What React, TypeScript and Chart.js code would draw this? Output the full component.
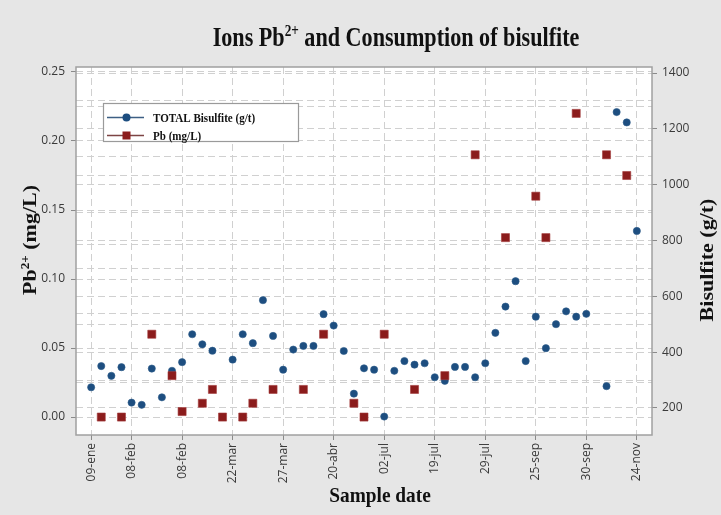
import React, { useEffect, useRef } from 'react';
import { Chart, registerables } from 'chart.js';

Chart.register(...registerables);

// TOTAL Bisulfite (g/t) per sample (null = not measured)
const bisulfite: (number | null)[] = [
  274, 350, 315, 346, 219, 211, 341, 238, 333, 364,
  464, 428, 405, null, 373, 464, 432, 586, 458, 337,
  409, 422, 422, 536, 495, 404, 251, 342, 337, 169,
  333, 368, 355, 360, 310, 297, 347, 347, 310, 360,
  469, 563, 654, 368, 527, 414, 500, 546, 527, 537,
  null, 278, 1260, 1223, 834,
];

// Pb (mg/L) per sample (null = not measured)
const pb: (number | null)[] = [
  null, 0, null, 0, null, null, 0.06, null, 0.03, 0.004,
  null, 0.01, 0.02, 0, null, 0, 0.01, null, 0.02, null,
  null, 0.02, null, 0.06, null, null, 0.01, 0, null, 0.06,
  null, null, 0.02, null, null, 0.03, null, null, 0.19, null,
  null, 0.13, null, null, 0.16, 0.13, null, null, 0.22, null,
  null, 0.19, null, 0.175, null,
];

const xTickIndex = [0, 4, 9, 14, 19, 24, 29, 34, 39, 44, 49, 54];
const xTickLabels = ['09-ene', '08-feb', '08-feb', '22-mar', '27-mar', '20-abr', '02-jul', '19-jul', '29-jul', '25-sep', '30-sep', '24-nov'];
const leftTicks = [0, 0.025, 0.05, 0.075, 0.1, 0.125, 0.15, 0.175, 0.2, 0.225, 0.25];
const rightTicks = [200, 300, 400, 500, 600, 700, 800, 900, 1000, 1100, 1200, 1300, 1400];

const BLUE = '#1d4e80';
const RED = '#8b1c1c';
const GRID = '#d0d0d0';
const SERIF = '"Liberation Serif", "Times New Roman", serif';
const SANS = '"Open Sans", "Liberation Sans", sans-serif';

type Part = { t: string; sup?: boolean };

function drawText(
  ctx: CanvasRenderingContext2D,
  parts: Part[],
  x: number,
  y: number,
  size: number,
  sx: number,
  sy: number,
  rot: number,
  align: 'center' | 'left',
) {
  ctx.save();
  ctx.translate(x, y);
  ctx.rotate(rot);
  ctx.scale(sx, sy);
  const font = (s: number) => `bold ${s}px ${SERIF}`;
  const widths = parts.map((p) => {
    ctx.font = font(p.sup ? size * 0.6 : size);
    return ctx.measureText(p.t).width;
  });
  const total = widths.reduce((a, b) => a + b, 0);
  let cx = align === 'center' ? -total / 2 : 0;
  ctx.textBaseline = 'alphabetic';
  ctx.textAlign = 'left';
  ctx.fillStyle = '#111';
  parts.forEach((p, i) => {
    ctx.font = font(p.sup ? size * 0.6 : size);
    ctx.fillText(p.t, cx, p.sup ? -size * 0.38 : 0);
    cx += widths[i];
  });
  ctx.restore();
}

const isMajorLeft = (v: number) => Math.abs(Math.round(v * 20) - v * 20) < 1e-6;
const isMajorRight = (v: number) => Math.round(v) % 200 === 0;

const framePlugin = {
  id: 'frame',
  beforeDraw(chart: any) {
    const { ctx, chartArea: a } = chart;
    ctx.save();
    ctx.fillStyle = '#e6e6e6';
    ctx.fillRect(0, 0, chart.width, chart.height);
    ctx.fillStyle = '#ffffff';
    ctx.fillRect(a.left, a.top, a.right - a.left, a.bottom - a.top);
    ctx.restore();
  },
  afterDraw(chart: any) {
    const { ctx, chartArea: a } = chart;
    ctx.save();
    ctx.strokeStyle = '#a0a0a0';
    ctx.lineWidth = 1.5;
    ctx.strokeRect(a.left, a.top, a.right - a.left, a.bottom - a.top);

    // legend
    ctx.fillStyle = '#ffffff';
    ctx.fillRect(103, 103, 196, 39);
    ctx.strokeStyle = '#9a9a9a';
    ctx.lineWidth = 1.2;
    ctx.strokeRect(103.5, 103.5, 195, 38);

    ctx.lineWidth = 1.5;
    ctx.strokeStyle = '#3d5f84';
    ctx.beginPath();
    ctx.moveTo(107, 117.5);
    ctx.lineTo(144, 117.5);
    ctx.stroke();
    ctx.fillStyle = BLUE;
    ctx.beginPath();
    ctx.arc(126.5, 117.5, 4, 0, Math.PI * 2);
    ctx.fill();

    ctx.strokeStyle = '#7d4444';
    ctx.beginPath();
    ctx.moveTo(107, 135.5);
    ctx.lineTo(144, 135.5);
    ctx.stroke();
    ctx.fillStyle = RED;
    ctx.fillRect(122.5, 131.5, 8, 8);
    ctx.restore();

    drawText(ctx, [{ t: 'TOTAL Bisulfite (g/t)' }], 153, 122, 13, 0.85, 1, 0, 'left');
    drawText(ctx, [{ t: 'Pb (mg/L)' }], 153, 140, 13, 0.85, 1, 0, 'left');

    // titles
    drawText(ctx, [{ t: 'Ions Pb' }, { t: '2+', sup: true }, { t: ' and Consumption of bisulfite' }], 396, 46, 27, 0.82, 1, 0, 'center');
    drawText(ctx, [{ t: 'Pb' }, { t: '2+', sup: true }, { t: ' (mg/L)' }], 36, 240, 22, 1, 0.88, -Math.PI / 2, 'center');
    drawText(ctx, [{ t: 'Bisulfite (g/t)' }], 713, 260, 22, 1, 0.88, -Math.PI / 2, 'center');
    drawText(ctx, [{ t: 'Sample date' }], 380, 502, 22, 0.88, 1, 0, 'center');
  },
};

export default function App() {
  const ref = useRef<HTMLCanvasElement>(null);

  useEffect(() => {
    const bisData = bisulfite.map((v, i) => ({ x: i, y: v }));
    const pbData = pb.map((v, i) => ({ x: i, y: v }));

    const tickFont = { family: SANS, size: 12 };

    const chart = new Chart(ref.current as HTMLCanvasElement, {
      type: 'scatter',
      data: {
        datasets: [
          {
            label: 'TOTAL Bisulfite (g/t)',
            data: bisData as any,
            yAxisID: 'y1',
            pointStyle: 'circle',
            pointRadius: 3.6,
            backgroundColor: BLUE,
            borderColor: '#2b5a88',
            borderWidth: 0.6,
            showLine: false,
            order: 1,
          },
          {
            label: 'Pb (mg/L)',
            data: pbData as any,
            yAxisID: 'y',
            pointStyle: 'rect',
            pointRadius: 5.7,
            backgroundColor: RED,
            borderColor: '#a33a3a',
            borderWidth: 0.6,
            showLine: false,
            order: 0,
          },
        ],
      },
      options: {
        responsive: false,
        animation: false,
        devicePixelRatio: 1,
        layout: { padding: { top: 67, left: 0, right: 0, bottom: 0 } },
        plugins: {
          legend: { display: false },
          title: { display: false },
          tooltip: { enabled: false },
        },
        scales: {
          x: {
            type: 'linear',
            bounds: 'data',
            min: -1.5,
            max: 55.5,
            afterBuildTicks: (s: any) => {
              s.ticks = xTickIndex.map((v) => ({ value: v }));
            },
            afterFit: (s: any) => {
              s.height = 80;
            },
            ticks: {
              autoSkip: false,
              minRotation: 90,
              maxRotation: 90,
              padding: 3,
              color: '#3a3a3a',
              font: tickFont,
              callback: (v: any) => {
                const k = xTickIndex.indexOf(Number(v));
                return k >= 0 ? xTickLabels[k] : '';
              },
            },
            grid: {
              color: GRID,
              lineWidth: 1,
              tickLength: 5,
              tickColor: '#8a8a8a',
              tickBorderDash: [],
            },
            border: { display: false, dash: [7, 4] },
          },
          y: {
            type: 'linear',
            position: 'left',
            bounds: 'data',
            min: -0.013,
            max: 0.2536,
            afterBuildTicks: (s: any) => {
              s.ticks = leftTicks.map((v) => ({ value: v }));
            },
            afterFit: (s: any) => {
              s.width = 76;
            },
            ticks: {
              autoSkip: false,
              padding: 6,
              color: '#3a3a3a',
              font: tickFont,
              callback: (v: any) => (isMajorLeft(Number(v)) ? Number(v).toFixed(2) : ''),
            },
            grid: {
              color: GRID,
              lineWidth: 1,
              tickLength: 5,
              tickColor: (c: any) => (c.tick && isMajorLeft(c.tick.value) ? '#8a8a8a' : 'rgba(0,0,0,0)'),
              tickBorderDash: [],
            },
            border: { display: false, dash: [7, 4] },
          },
          y1: {
            type: 'linear',
            position: 'right',
            bounds: 'data',
            min: 103,
            max: 1421.5,
            afterBuildTicks: (s: any) => {
              s.ticks = rightTicks.map((v) => ({ value: v }));
            },
            afterFit: (s: any) => {
              s.width = 69;
            },
            ticks: {
              autoSkip: false,
              padding: 5,
              color: '#3a3a3a',
              font: tickFont,
              callback: (v: any) => (isMajorRight(Number(v)) ? String(v) : ''),
            },
            grid: {
              color: GRID,
              lineWidth: 1,
              tickLength: 5,
              tickColor: (c: any) => (c.tick && isMajorRight(c.tick.value) ? '#8a8a8a' : 'rgba(0,0,0,0)'),
              tickBorderDash: [],
            },
            border: { display: false, dash: [7, 4] },
          },
        },
      } as any,
      plugins: [framePlugin as any],
    });

    return () => chart.destroy();
  }, []);

  return (
    <div style={{ position: 'fixed', left: 0, top: 0, width: 721, height: 515, background: '#e6e6e6' }}>
      <canvas ref={ref} width={721} height={515} style={{ display: 'block', width: 721, height: 515 }} />
    </div>
  );
}
